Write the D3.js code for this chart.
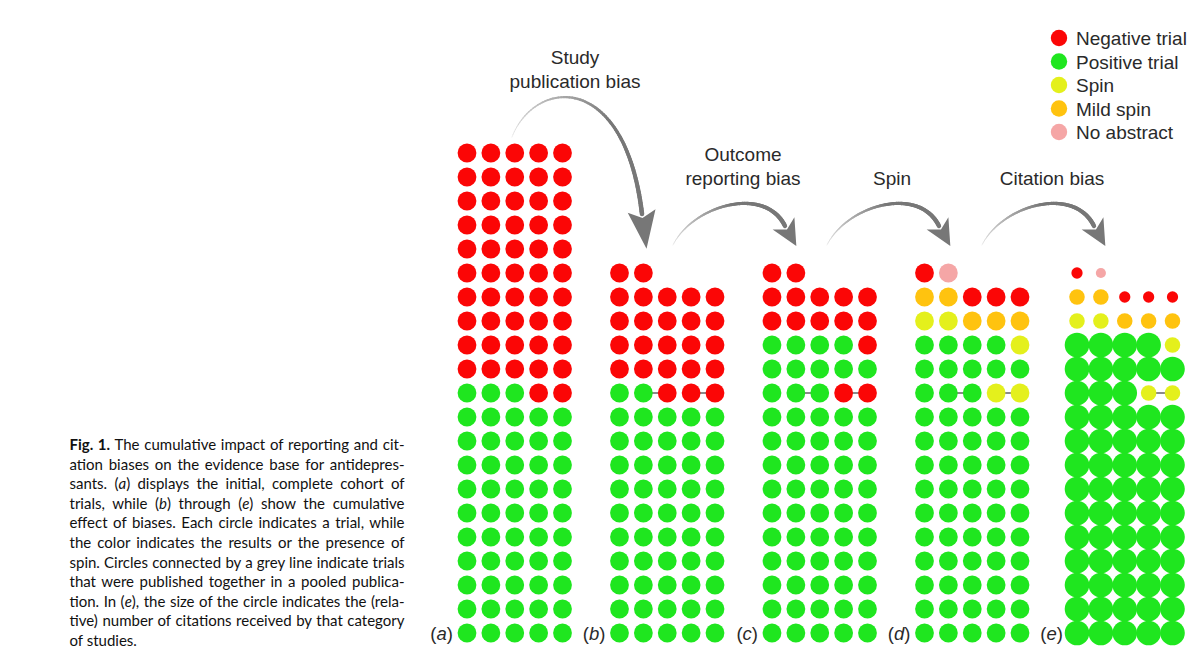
<!DOCTYPE html>
<html>
<head>
<meta charset="utf-8">
<script src="https://cdn.jsdelivr.net/npm/d3@7"></script>
<style>
  body { margin: 0; background: #fff; }
  svg { display: block; }
  .note { font-family: "Liberation Sans", Arial, sans-serif; fill: #2a2a2a; }
  .caption { font-family: Lato, "Noto Sans", sans-serif; fill: #111; }
</style>
</head>
<body>
<div id="chart"></div>
<script>
// 1: DATA
// N = negative trial, P = positive trial, S = spin, M = mild spin, X = no abstract
const categories = ["N", "P", "S", "M", "X"];
const categoryNames = ["Negative trial", "Positive trial", "Spin", "Mild spin", "No abstract"];
// relative number of citations per category (panel e)
const relCitations = [0.21, 1, 0.4, 0.4, 0.17];

const panels = ["a", "b", "c", "d", "e"];

// rows listed top -> bottom
const panelA = [
  "NNNNN", "NNNNN", "NNNNN", "NNNNN", "NNNNN", "NNNNN", "NNNNN", "NNNNN", "NNNNN", "NNNNN",
  "PPPNN",
  "PPPPP", "PPPPP", "PPPPP", "PPPPP", "PPPPP", "PPPPP", "PPPPP", "PPPPP", "PPPPP", "PPPPP"
];
const panelB = [
  "NN", "NNNNN", "NNNNN", "NNNNN", "NNNNN",
  "PPNNN",
  "PPPPP", "PPPPP", "PPPPP", "PPPPP", "PPPPP", "PPPPP", "PPPPP", "PPPPP", "PPPPP", "PPPPP"
];
const panelC = [
  "NN", "NNNNN", "NNNNN", "PPPPN", "PPPPP",
  "PPPNN",
  "PPPPP", "PPPPP", "PPPPP", "PPPPP", "PPPPP", "PPPPP", "PPPPP", "PPPPP", "PPPPP", "PPPPP"
];
const panelD = [
  "NX", "MMNNN", "SSMMM", "PPPPS", "PPPPP",
  "PPPSS",
  "PPPPP", "PPPPP", "PPPPP", "PPPPP", "PPPPP", "PPPPP", "PPPPP", "PPPPP", "PPPPP", "PPPPP"
];
const panelE = panelD;
const panelRows = [panelA, panelB, panelC, panelD, panelE];

// pooled publications: [panel, row from top, col 1, col 2]
const pooled = [
  ["b", 5, 1, 2], ["b", 5, 3, 4],
  ["c", 5, 1, 2], ["c", 5, 3, 4],
  ["d", 5, 1, 2], ["d", 5, 3, 4],
  ["e", 5, 1, 2], ["e", 5, 3, 4]
];

const biasLabels = [
  ["Study", "publication bias"],
  ["Outcome", "reporting bias"],
  ["Spin"],
  ["Citation bias"]
];

const captionLines = [
  [["b", "Fig. 1."], ["n", " The cumulative impact of reporting and cit-"]],
  [["n", "ation biases on the evidence base for antidepres-"]],
  [["n", "sants. ("], ["i", "a"], ["n", ") displays the initial, complete cohort of"]],
  [["n", "trials, while ("], ["i", "b"], ["n", ") through ("], ["i", "e"], ["n", ") show the cumulative"]],
  [["n", "effect of biases. Each circle indicates a trial, while"]],
  [["n", "the color indicates the results or the presence of"]],
  [["n", "spin. Circles connected by a grey line indicate trials"]],
  [["n", "that were published together in a pooled publica-"]],
  [["n", "tion. In ("], ["i", "e"], ["n", "), the size of the circle indicates the (rela-"]],
  [["n", "tive) number of citations received by that category"]],
  [["n", "of studies."]]
];

// 2: SVG
const W = 1200, H = 658;
const svg = d3.select("#chart").append("svg")
  .attr("width", W)
  .attr("height", H);

// 3: SCALES
const xPanel = d3.scalePoint().domain(panels).range([467, 1077]);
const xCol = d3.scaleLinear().domain([0, 4]).range([0, 95.5]);
const yRow = d3.scaleLinear().domain([0, 20]).range([633, 153]); // row index counted from bottom
const color = d3.scaleOrdinal().domain(categories)
  .range(["#fb0606", "#1fe61f", "#e4f01c", "#ffc30f", "#f5a6a6"]);
const rCite = d3.scaleSqrt().domain([0, 1]).range([0, 12.3]);
const baseR = 9.4;

// build cells
const cells = [];
panels.forEach((p, pi) => {
  const rows = panelRows[pi];
  rows.forEach((row, i) => {
    row.split("").forEach((c, j) => {
      cells.push({ panel: p, rowTop: i, row: rows.length - 1 - i, col: j, cat: c });
    });
  });
});
const cellPos = (p, rowTop, col) => {
  const rows = panelRows[panels.indexOf(p)];
  return [xPanel(p) + xCol(col), yRow(rows.length - 1 - rowTop)];
};

// 4: POOLED LINKS
svg.append("g").selectAll("line")
  .data(pooled)
  .join("line")
  .attr("x1", d => cellPos(d[0], d[1], d[2])[0])
  .attr("y1", d => cellPos(d[0], d[1], d[2])[1])
  .attr("x2", d => cellPos(d[0], d[1], d[3])[0])
  .attr("y2", d => cellPos(d[0], d[1], d[3])[1])
  .attr("stroke", "#8a8a8a")
  .attr("stroke-width", 2);

// 5: CIRCLES
svg.append("g").selectAll("circle")
  .data(cells)
  .join("circle")
  .attr("cx", d => xPanel(d.panel) + xCol(d.col))
  .attr("cy", d => yRow(d.row))
  .attr("r", d => d.panel === "e" ? rCite(relCitations[categories.indexOf(d.cat)]) : baseR)
  .attr("fill", d => color(d.cat));

// panel labels
const plab = svg.append("g").selectAll("text")
  .data(panels)
  .join("text")
  .attr("class", "note")
  .attr("x", d => xPanel(d) - 14)
  .attr("y", yRow(0) + 6.5)
  .attr("text-anchor", "end")
  .style("font-size", "18.5px");
plab.append("tspan").text("(");
plab.append("tspan").style("font-style", "italic").text(d => d);
plab.append("tspan").text(")");

// 6: ARROWS (tapered, light -> dark)
const arrows = [
  { d: "M512,137 C535,78 625,70 642,214", w0: 0.6, w1: 4.6, head: [28, 35] },
  { d: "M673,245 C693,205 765,185 785,226", w0: 0.6, w1: 4.4, head: [25, 23] },
  { d: "M827,245 C847,205 919,185 939,226", w0: 0.6, w1: 4.4, head: [25, 23] },
  { d: "M982,245 C1002,205 1074,185 1094,226", w0: 0.6, w1: 4.4, head: [25, 23] }
];
const grey = d3.interpolateRgb("#e2e2e2", "#777777");
const ag = svg.append("g");
arrows.forEach(a => {
  const tmp = ag.append("path").attr("d", a.d).attr("fill", "none");
  const node = tmp.node();
  const L = node.getTotalLength();
  const n = 80;
  const pts = d3.range(n + 1).map(i => node.getPointAtLength(L * i / n));
  tmp.remove();
  for (let i = 0; i < n; i++) {
    const t = i / n;
    ag.append("line")
      .attr("x1", pts[i].x).attr("y1", pts[i].y)
      .attr("x2", pts[i + 1].x).attr("y2", pts[i + 1].y)
      .attr("stroke", grey(Math.min(1, t * 1.8)))
      .attr("stroke-width", a.w0 + (a.w1 - a.w0) * Math.pow(t, 0.8))
      .attr("stroke-linecap", "round");
  }
  // arrow head
  const e = pts[n], q = pts[n - 3];
  let dx = e.x - q.x, dy = e.y - q.y;
  const len = Math.hypot(dx, dy); dx /= len; dy /= len;
  const [hw, hl] = a.head;
  const tip = [e.x + dx * hl, e.y + dy * hl];
  const b1 = [e.x - dy * hw / 2 - dx * 3, e.y + dx * hw / 2 - dy * 3];
  const b2 = [e.x + dy * hw / 2 - dx * 3, e.y - dx * hw / 2 - dy * 3];
  ag.append("path")
    .attr("d", `M${b1}L${tip}L${b2}L${e.x + dx * 4},${e.y + dy * 4}Z`)
    .attr("fill", "#777");
});

// bias labels
const labelPos = [[575, 64], [743, 161], [892, 185], [1052, 185]];
biasLabels.forEach((lines, i) => {
  const t = svg.append("text")
    .attr("class", "note")
    .attr("text-anchor", "middle")
    .style("font-size", "19px");
  lines.forEach((s, k) => {
    t.append("tspan")
      .attr("x", labelPos[i][0])
      .attr("y", labelPos[i][1] + k * 24)
      .text(s);
  });
});

// 7: LEGEND
const yLeg = d3.scalePoint().domain(categories).range([38, 132]);
const leg = svg.append("g").selectAll("g")
  .data(categories)
  .join("g")
  .attr("transform", d => `translate(1059,${yLeg(d)})`);
leg.append("circle").attr("r", 8.2).attr("fill", d => color(d));
leg.append("text")
  .attr("class", "note")
  .attr("x", 17)
  .attr("y", 7)
  .style("font-size", "19px")
  .text((d, i) => categoryNames[i]);

// 8: CAPTION (justified)
const capX = 69.5, capW = 335, capY0 = 450, capDy = 19.6;
let fs = 15;
const cap = svg.append("g");
const capTexts = captionLines.map((parts, i) => {
  const t = cap.append("text")
    .attr("class", "caption")
    .attr("x", capX)
    .attr("y", capY0 + i * capDy)
    .style("font-size", fs + "px");
  parts.forEach(([s, str]) => {
    t.append("tspan")
      .style("font-weight", s === "b" ? "bold" : null)
      .style("font-style", s === "i" ? "italic" : null)
      .text(str);
  });
  return t;
});
// fit font so the widest line fits
const maxW = d3.max(capTexts.slice(0, -1), t => t.node().getComputedTextLength());
if (maxW > capW - 2) {
  fs = fs * (capW - 2) / maxW;
  capTexts.forEach(t => t.style("font-size", fs + "px"));
}
capTexts.forEach((t, i) => {
  if (i === capTexts.length - 1) return;
  const w = t.node().getComputedTextLength();
  const spaces = (t.text().match(/ /g) || []).length;
  if (spaces > 0) t.style("word-spacing", ((capW - w) / spaces) + "px");
});
</script>
</body>
</html>
